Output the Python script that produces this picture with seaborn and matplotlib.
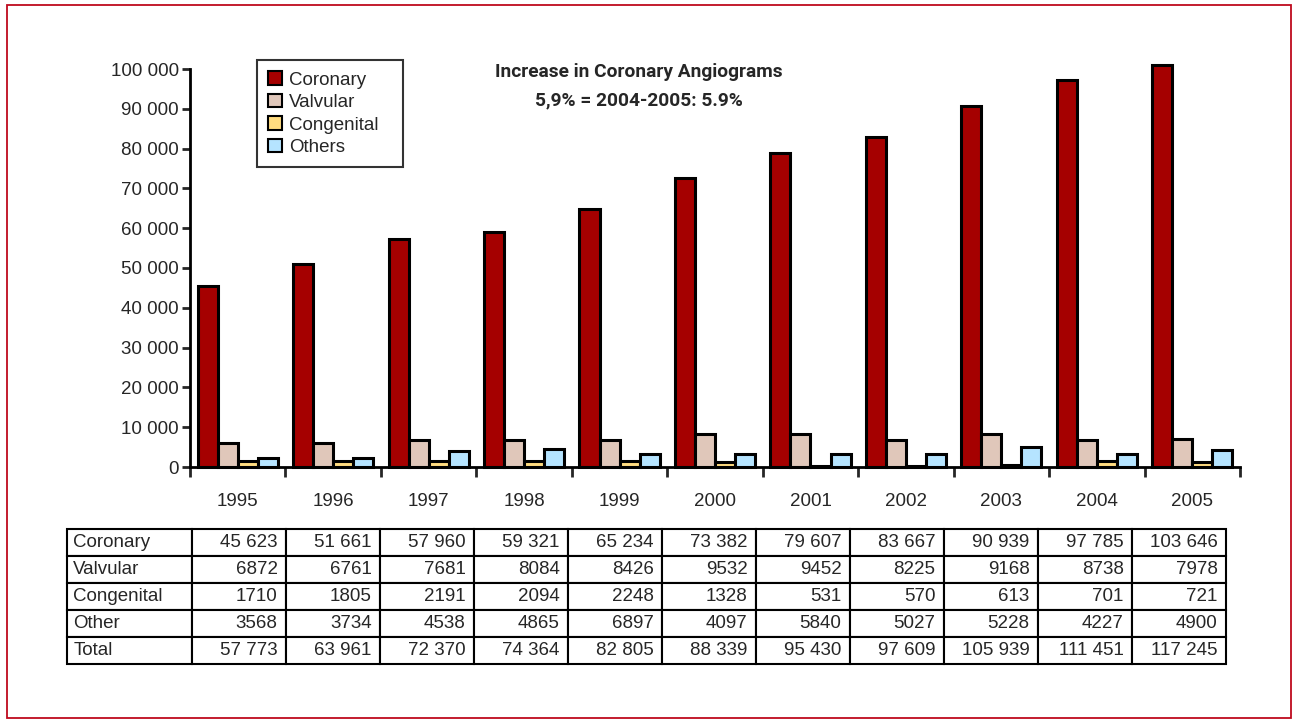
import numpy as np
import pandas as pd
import seaborn as sns
import matplotlib.pyplot as plt
from matplotlib.patches import Rectangle
from matplotlib.ticker import FuncFormatter

years = ['1995', '1996', '1997', '1998', '1999', '2000', '2001', '2002', '2003', '2004', '2005']
series = ['Coronary', 'Valvular', 'Congenital', 'Others']
colors = ['#A50000', '#E0C7BA', '#FFDC80', '#B5E4FF']

# bar heights as drawn in the chart
bar_coronary = [45400, 51000, 57300, 59100, 64800, 72700, 79000, 83000, 90600, 97300, 100900]
bar_valvular = [6100, 6100, 6900, 6900, 6900, 8200, 8200, 6900, 8200, 6900, 7100]
bar_congenital = [1500, 1500, 1500, 1500, 1500, 1200, 250, 250, 450, 1500, 1300]
bar_others = [2300, 2300, 4100, 4400, 3350, 3350, 3350, 3350, 4900, 3350, 4300]

# values printed in the table
tab_labels = ['Coronary', 'Valvular', 'Congenital', 'Other', 'Total']
tab_coronary = [45623, 51661, 57960, 59321, 65234, 73382, 79607, 83667, 90939, 97785, 103646]
tab_valvular = [6872, 6761, 7681, 8084, 8426, 9532, 9452, 8225, 9168, 8738, 7978]
tab_congenital = [1710, 1805, 2191, 2094, 2248, 1328, 531, 570, 613, 701, 721]
tab_other = [3568, 3734, 4538, 4865, 6897, 4097, 5840, 5027, 5228, 4227, 4900]
tab_total = [57773, 63961, 72370, 74364, 82805, 88339, 95430, 97609, 105939, 111451, 117245]

sns.set_style('white')
plt.rcParams['font.family'] = ['Liberation Sans', 'DejaVu Sans']
plt.rcParams['font.size'] = 13

df = pd.DataFrame({
    'year': years * 4,
    'type': [s for s in series for _ in years],
    'value': bar_coronary + bar_valvular + bar_congenital + bar_others,
})

W, H = 1296, 723
fig = plt.figure(figsize=(W / 100, H / 100), dpi=100)
ax = fig.add_axes([190 / W, 1 - 467 / H, (1240 - 190) / W, (467 - 69) / H])

sns.barplot(data=df, x='year', y='value', hue='type', hue_order=series,
            palette=colors, saturation=1, edgecolor='black', linewidth=2.2,
            width=0.84, ax=ax)
for p in ax.patches:
    p.set_clip_on(False)

ax.set_ylim(0, 100000)
ax.set_xlim(-0.5, 10.5)
ax.set_yticks(range(0, 100001, 10000))
ax.yaxis.set_major_formatter(FuncFormatter(lambda v, _: f'{int(v):,}'.replace(',', ' ')))
ax.set_xticks(np.arange(-0.5, 11, 1))
ax.set_xticklabels([])
ax.set_xticks(range(len(years)), minor=True)
ax.set_xticklabels(years, minor=True)
ax.tick_params(axis='x', which='major', direction='out', length=7, width=2, bottom=True)
ax.tick_params(axis='x', which='minor', length=0, pad=19, labelsize=13.5)
ax.tick_params(axis='y', direction='out', length=6, width=2, left=True, pad=2, labelsize=13.5)
ax.set_xlabel('')
ax.set_ylabel('')
for side in ['top', 'right']:
    ax.spines[side].set_visible(False)
for side in ['left', 'bottom']:
    ax.spines[side].set_linewidth(2)
    ax.spines[side].set_color('black')

handles, labels = ax.get_legend_handles_labels()
for h in handles:
    h.set_edgecolor('black')
    h.set_linewidth(1.5)
leg = ax.legend(handles, labels, loc='upper left',
                bbox_to_anchor=(257 / W, 1 - 167 / H, (403 - 257) / W, (167 - 60) / H),
                bbox_transform=fig.transFigure, mode='expand', fancybox=False, frameon=True,
                handlelength=0.75, handleheight=0.75, handletextpad=0.35,
                labelspacing=0.27, borderpad=0.6, borderaxespad=0, fontsize=13.5)
leg.get_frame().set_edgecolor('black')
leg.get_frame().set_linewidth(1.5)

title_font = ['Roboto', 'DejaVu Sans']
fig.text(639 / W, 1 - 72 / H, 'Increase in Coronary Angiograms', ha='center', va='center',
         fontsize=13.8, fontweight='bold', family=title_font)
fig.text(639 / W, 1 - 100 / H, '5,9% = 2004-2005: 5.9%', ha='center', va='center',
         fontsize=13.8, fontweight='bold', family=title_font)


def fmt(v):
    return f'{v:,}'.replace(',', ' ') if v >= 10000 else str(v)


rows = [tab_coronary, tab_valvular, tab_congenital, tab_other, tab_total]
cell_text = [[lab] + [fmt(v) for v in row] for lab, row in zip(tab_labels, rows)]
tax = fig.add_axes([67 / W, 1 - 664 / H, (1226 - 67) / W, (664 - 529) / H])
tax.axis('off')
first = 125 / 1159
col_widths = [first] + [(1 - first) / len(years)] * len(years)
tbl = tax.table(cellText=cell_text, colWidths=col_widths, bbox=[0, 0, 1, 1], cellLoc='right')
tbl.auto_set_font_size(False)
tbl.set_fontsize(13.5)
for (r, c), cell in tbl.get_celld().items():
    cell.set_linewidth(1.5)
    cell.set_edgecolor('black')
    cell.PAD = 0.09
    if c == 0:
        cell._loc = 'left'
        cell.get_text().set_horizontalalignment('left')
        cell.PAD = 0.05

fig.patches.append(Rectangle((7 / W, 5 / H), (1291 - 7) / W, (718 - 5) / H,
                             transform=fig.transFigure, fill=False,
                             edgecolor='#BE0A1E', linewidth=1.3))

fig.savefig('out.png', dpi=100)
